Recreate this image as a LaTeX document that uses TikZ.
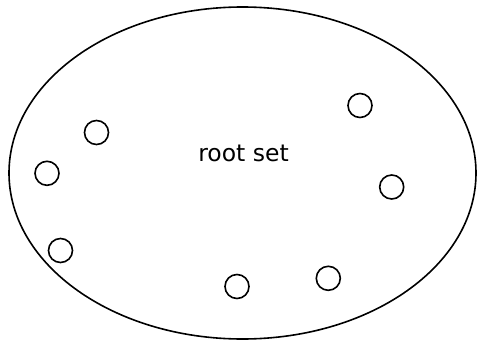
\documentclass[tikz,border=0pt]{standalone}
\usepackage{fontspec}
\setmainfont{DejaVu Sans}
\begin{document}
\begin{tikzpicture}[x=1pt,y=-1pt,
  setline/.style={line width=1.6pt},
  obj/.style={circle, draw, line width=1.6pt, minimum size=24pt, inner sep=0pt}]
\useasboundingbox (0,0) rectangle (477,340);
% the enclosing set
\draw[setline] (242.5,173) ellipse [x radius=233.5, y radius=166];
\node[font=\fontsize{23.5}{27}\selectfont, anchor=base, inner sep=0pt] (label) at (243.5,161) {root set};
% objects
\node[obj] (o1) at (96.5,132.5) {};
\node[obj] (o2) at (47,173.3) {};
\node[obj] (o3) at (60.5,250.5) {};
\node[obj] (o4) at (237,286.5) {};
\node[obj] (o5) at (328.3,278.3) {};
\node[obj] (o6) at (360,105.5) {};
\node[obj] (o7) at (391.7,187) {};
\end{tikzpicture}
\end{document}
